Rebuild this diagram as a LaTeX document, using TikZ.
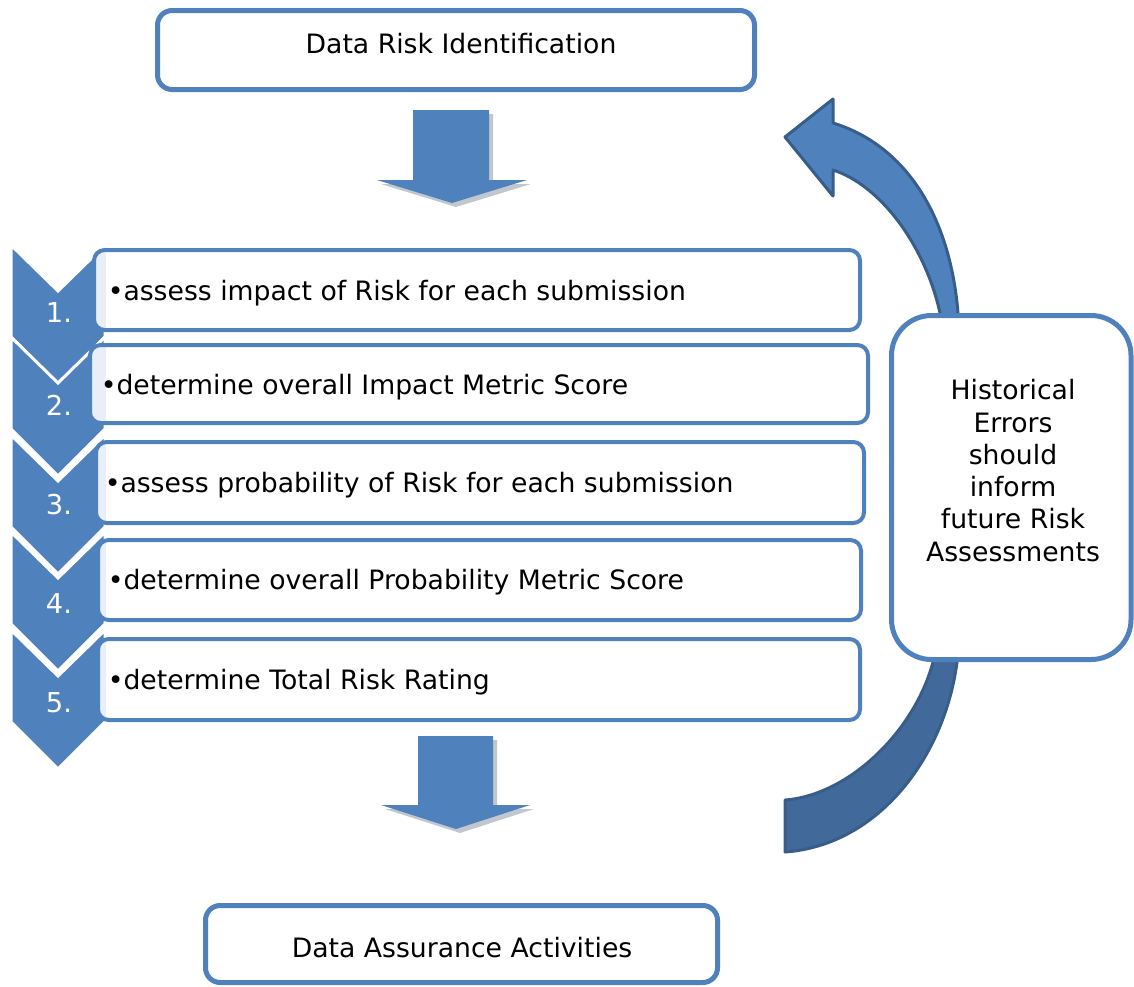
\documentclass[tikz,border=0pt]{standalone}
\usepackage{fontspec}
\setmainfont{DejaVu Sans}
\definecolor{accent}{HTML}{4F81BD}
\definecolor{accentdark}{HTML}{385D8A}
\definecolor{accentlow}{HTML}{41699A}
\definecolor{stripfill}{HTML}{E9EEF7}
\definecolor{shadowgray}{HTML}{8E99A8}
\pgfdeclareverticalshading{curvedshade}{100bp}{color(0bp)=(accentlow); color(48bp)=(accentlow); color(50bp)=(accent); color(100bp)=(accent)}
\begin{document}
\begin{tikzpicture}[x=0.75pt,y=-0.75pt,
  txt/.style={font=\fontsize{20}{24.2}\selectfont, inner sep=0pt, text=black},
  numtxt/.style={font=\fontsize{20.5}{24}\selectfont, inner sep=0pt, text=white},
  bigbox/.style={draw=accent, line width=3.75pt, fill=white, rounded corners=11pt},
  listline/.style={draw=accent, line width=3pt, rounded corners=8pt},
  listfill/.style={fill=white, rounded corners=8pt},
  chev/.style={fill=accent, draw=white, line width=2.25pt, line join=miter},
  blockarrow/.style={fill=accent},
  arrowshadow/.style={fill=shadowgray, opacity=0.55},
  curvearrow/.style={shading=curvedshade, draw=accentdark, line width=2.25pt, line join=round}
]
\useasboundingbox (0,0) rectangle (1134,986);

% top box
\draw[bigbox] (157.5,10.5) rectangle (754.5,89.5);
\node[txt, anchor=base] (riskid) at (461,53) {Data Risk Identification};

% down arrow 1
\fill[arrowshadow] (417,114) -- (493,114) -- (493,184) -- (531,184) -- (456,207) -- (381,184) -- (417,184) -- cycle;
\fill[blockarrow] (413,110) -- (489,110) -- (489,180) -- (527,180) -- (452,203) -- (377,180) -- (413,180) -- cycle;

% chevrons
\foreach \t in {245, 337, 435, 532, 630}{
  \draw[chev] (11,\t) -- (58,\t+46) -- (105,\t) -- (105,\t+92) -- (58,\t+139) -- (11,\t+92) -- cycle;
}

% list boxes
\foreach \l/\tp/\r/\bt in {94/250/860/330, 90/345/868/423, 96/442/864/523, 98/540/861/620, 98/639/860/720}{
  \begin{scope}
    \path[listfill] (\l,\tp) rectangle (\r,\bt);
    \clip[rounded corners=8pt] (\l,\tp) rectangle (\r,\bt);
    \fill[stripfill] (\l,\tp) rectangle (106,\bt);
  \end{scope}
  \draw[listline] (\l,\tp) rectangle (\r,\bt);
}

% numbers
\node[numtxt, anchor=base] (num1) at (59,322) {1.};
\node[numtxt, anchor=base] (num2) at (59,415) {2.};
\node[numtxt, anchor=base] (num3) at (59,514) {3.};
\node[numtxt, anchor=base] (num4) at (59,613) {4.};
\node[numtxt, anchor=base] (num5) at (59,712) {5.};

% step texts
\node[txt, anchor=base west] (step1) at (107.5,300) {•assess impact of Risk for each submission};
\node[txt, anchor=base west] (step2) at (100.5,394) {•determine overall Impact Metric Score};
\node[txt, anchor=base west] (step3) at (104.5,492) {•assess probability of Risk for each submission};
\node[txt, anchor=base west] (step4) at (107.5,589) {•determine overall Probability Metric Score};
\node[txt, anchor=base west] (step5) at (107.5,689) {•determine Total Risk Rating};

% curved feedback arrow
\draw[curvearrow] (833,123) .. controls (905,145) and (950,215) .. (958,313)
  .. controls (966,410) and (969,570) .. (957,662)
  .. controls (945,755) and (880,845) .. (785,852) -- (785,800)
  .. controls (850,795) and (915,730) .. (933,662)
  .. controls (951,594) and (958,395) .. (940,313)
  .. controls (925,245) and (880,185) .. (833,170)
  -- (833,196) -- (785,137) -- (833,99) -- cycle;

% right box
\draw[bigbox, rounded corners=30pt] (891.5,315.5) rectangle (1131,659.5);
\node[txt, align=center] (hist) at (1013,470.5) {Historical\\Errors\\should\\inform\\future Risk\\Assessments};

% down arrow 2
\fill[arrowshadow] (422,740) -- (497,740) -- (497,809) -- (534,809) -- (460,833) -- (385,809) -- (422,809) -- cycle;
\fill[blockarrow] (418,736) -- (493,736) -- (493,805) -- (530,805) -- (456,829) -- (381,805) -- (418,805) -- cycle;

% bottom box
\draw[bigbox] (205.5,905.5) rectangle (717.5,982.5);
\node[txt, anchor=base] (assur) at (462,957) {Data Assurance Activities};
\end{tikzpicture}
\end{document}
